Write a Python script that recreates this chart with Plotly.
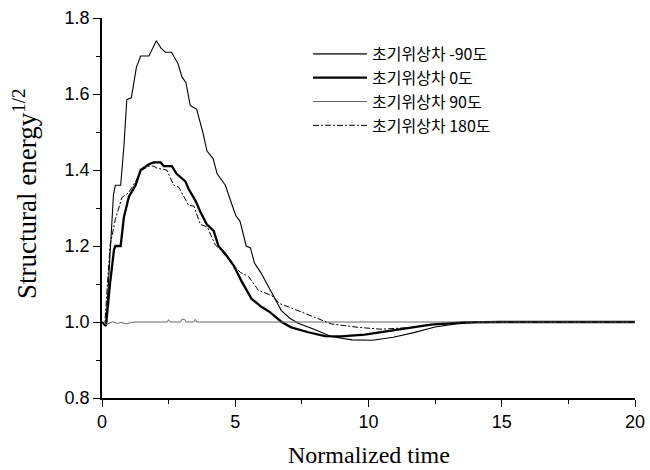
import plotly.graph_objects as go

# Normalized time / Structural energy^(1/2) for each initial phase difference
x_m90 = [0, 0.15, 0.28, 0.43, 0.5, 0.7, 0.82, 0.93, 1.1, 1.29, 1.45, 1.76, 2.04, 2.22, 2.38, 2.61,
         2.85, 3.0, 3.15, 3.31, 3.55, 3.78, 3.94, 4.17, 4.32, 4.63, 4.87, 5.02, 5.18, 5.41, 5.57,
         5.72, 5.96, 6.19, 6.42, 6.73, 7.05, 7.36, 7.98, 8.6, 9.38, 10.15, 10.93, 11.7, 12.5,
         13.27, 14.0, 15, 20]
y_m90 = [1.0, 0.99, 1.15, 1.335, 1.36, 1.36, 1.46, 1.585, 1.59, 1.67, 1.70, 1.70, 1.74, 1.72, 1.71, 1.71,
         1.68, 1.645, 1.63, 1.57, 1.56, 1.50, 1.45, 1.43, 1.39, 1.36, 1.31, 1.28, 1.265, 1.20, 1.195,
         1.155, 1.13, 1.10, 1.07, 1.03, 1.01, 0.997, 0.98, 0.962, 0.953, 0.952, 0.96, 0.972, 0.987,
         0.995, 0.999, 1.0, 1.0]

x_0 = [0, 0.15, 0.3, 0.45, 0.5, 0.7, 0.82, 1.01, 1.26, 1.45, 1.76, 1.94, 2.2, 2.32, 2.62, 2.8,
       3.13, 3.25, 3.5, 3.69, 3.93, 4.19, 4.37, 4.62, 4.93, 5.24, 5.61, 5.98, 6.3, 6.74, 7.1,
       7.74, 8.37, 8.97, 9.86, 11.1, 12.34, 13.6, 15, 20]
y_0 = [1.0, 0.99, 1.1, 1.19, 1.2, 1.2, 1.275, 1.33, 1.36, 1.40, 1.415, 1.42, 1.42, 1.41, 1.41, 1.39,
       1.37, 1.35, 1.32, 1.29, 1.257, 1.24, 1.2, 1.18, 1.15, 1.107, 1.061, 1.04, 1.026, 1.0, 0.986,
       0.973, 0.963, 0.962, 0.967, 0.98, 0.993, 0.999, 1.0, 1.0]

x_90 = [0, 0.16, 0.4, 0.58, 0.72, 0.91, 1.1, 1.3, 2.45, 2.5, 2.55, 2.95, 3.0, 3.1, 3.15, 3.45,
        3.5, 3.55, 20]
y_90 = [1.0, 0.993, 1.001, 0.996, 0.999, 0.995, 0.999, 1.0, 1.0, 1.006, 1.0, 1.0, 1.007, 1.007, 1.0, 1.0,
        1.007, 1.0, 1.0]

x_180 = [0, 0.1, 0.3, 0.5, 0.75, 1.0, 1.26, 1.5, 1.76, 1.94, 2.06, 2.43, 2.69, 2.88, 3.25, 3.45,
         3.69, 3.95, 4.25, 4.49, 4.86, 5.2, 5.5, 5.87, 6.36, 6.68, 6.99, 7.48, 7.99, 8.6, 9.6,
         10.47, 11.48, 12.34, 13.6, 15, 20]
y_180 = [1.0, 0.99, 1.2, 1.27, 1.328, 1.34, 1.37, 1.40, 1.41, 1.41, 1.405, 1.40, 1.36, 1.355, 1.307, 1.305,
         1.257, 1.25, 1.203, 1.187, 1.155, 1.13, 1.12, 1.083, 1.07, 1.048, 1.04, 1.026, 1.013, 0.995, 0.986,
         0.981, 0.985, 0.993, 0.999, 1.0, 1.0]

names = ["초기위상차 -90도", "초기위상차 0도", "초기위상차 90도", "초기위상차 180도"]
x_title = "Normalized time"
y_title = "Structural energy<sup>1/2</sup>"

fig = go.Figure()
fig.add_trace(go.Scatter(x=x_m90, y=y_m90, mode="lines", name=names[0],
                         line=dict(color="black", width=1.1)))
fig.add_trace(go.Scatter(x=x_0, y=y_0, mode="lines", name=names[1],
                         line=dict(color="black", width=2.3)))
fig.add_trace(go.Scatter(x=x_90, y=y_90, mode="lines", name=names[2],
                         line=dict(color="#666666", width=1)))
fig.add_trace(go.Scatter(x=x_180, y=y_180, mode="lines", name=names[3],
                         line=dict(color="black", width=1, dash="6px,2px,2px,2px")))

axis_common = dict(showline=True, linecolor="black", linewidth=1.5, ticks="outside",
                   ticklen=7, tickwidth=1.3, tickcolor="black", showgrid=False, zeroline=False,
                   ticklabeloverflow="allow", automargin=False,
                   tickfont=dict(family="Liberation Sans, Arial", size=18, color="black"))

fig.update_xaxes(range=[0, 20], dtick=5, tick0=0,
                 minor=dict(ticks="outside", ticklen=4, dtick=2.5, tickcolor="black", tickwidth=1.2),
                 **axis_common)
fig.update_yaxes(range=[0.8, 1.8], dtick=0.2, tick0=0.8, tickformat=".1f",
                 minor=dict(ticks="outside", ticklen=4, dtick=0.1, tickcolor="black", tickwidth=1.2),
                 **axis_common)

W, H = 650, 470
L, R, T, B = 102, 15, 18, 72
PW, PH = W - L - R, H - T - B
fig.add_annotation(text=x_title, xref="paper", yref="paper", x=0.5, y=-(455 - (H - B)) / PH,
                   xanchor="center", yanchor="middle", showarrow=False,
                   font=dict(family="Liberation Serif, Times New Roman", size=24, color="black"))
fig.add_annotation(text=y_title, xref="paper", yref="paper", x=-(L - 25) / PW, y=1 - (194 - T) / PH,
                   xanchor="center", yanchor="middle", showarrow=False, textangle=-90,
                   font=dict(family="Liberation Serif, Times New Roman", size=27, color="black"))

fig.update_layout(
    width=W, height=H,
    margin=dict(l=L, r=R, t=T, b=B),
    paper_bgcolor="white", plot_bgcolor="white",
    legend=dict(x=(308 - L) / PW, y=1 - (37 - T) / PH, xanchor="left", yanchor="top",
                bgcolor="rgba(0,0,0,0)", itemwidth=54,
                font=dict(family="Noto Sans CJK KR", size=16, color="black"),
                tracegroupgap=0),
)

fig.write_html("out.html", config={"displayModeBar": False},
               post_script="document.body.style.margin='0';document.body.style.overflow='hidden';")
